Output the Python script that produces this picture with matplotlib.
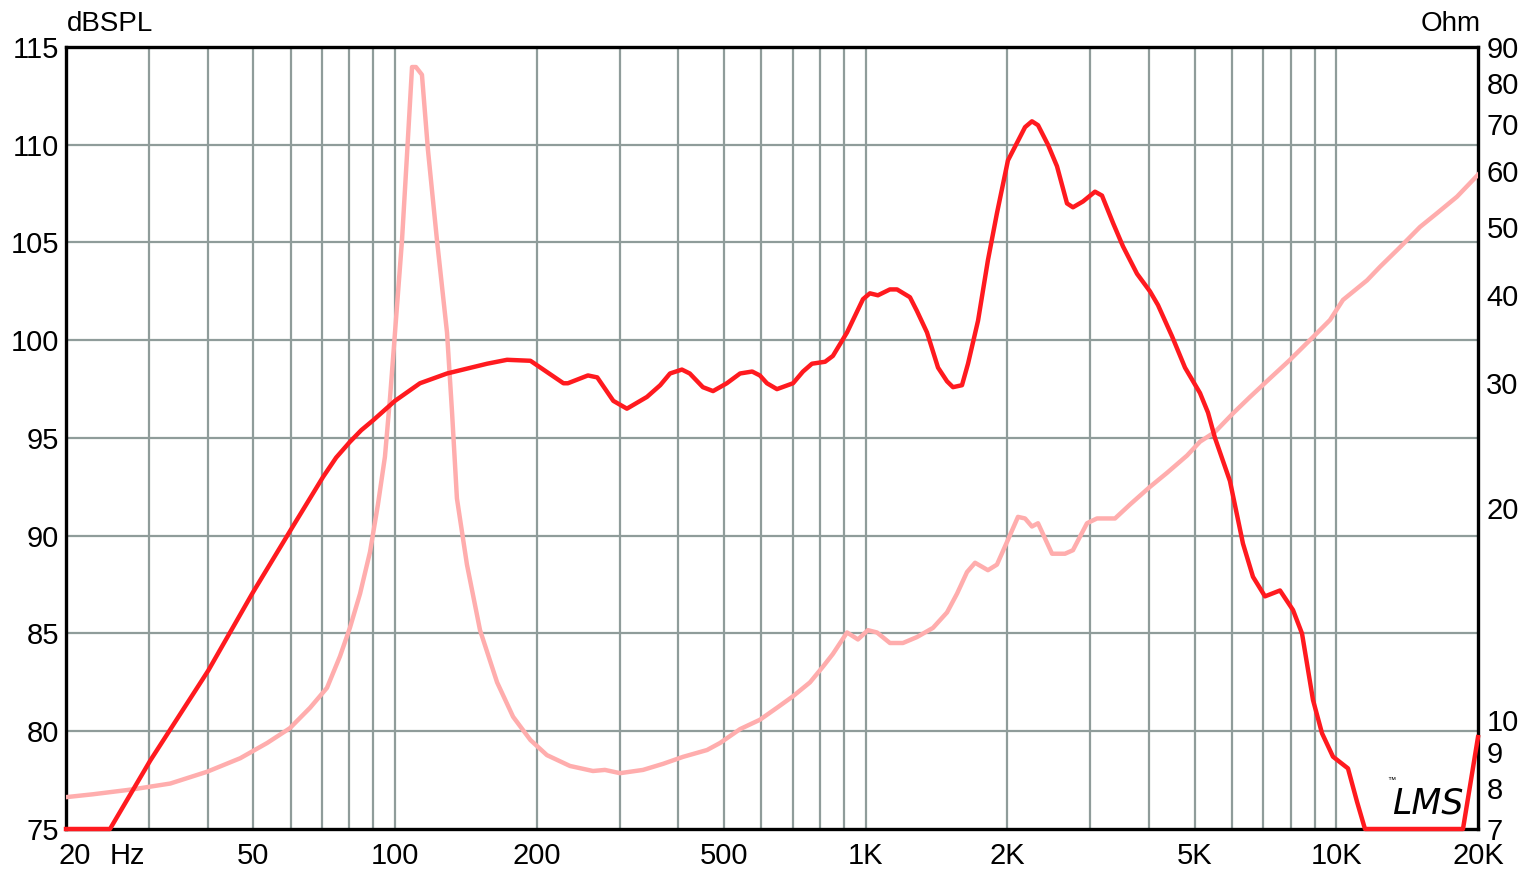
import matplotlib
matplotlib.use("Agg")
import matplotlib.pyplot as plt
from matplotlib.ticker import FixedLocator, NullLocator, NullFormatter
import matplotlib.transforms as mtransforms

# ---- data ----
spl_freq = [20, 24.8, 30.2, 40.1, 49.9, 60.4, 70.3, 75.0, 80.2, 84.8, 89.8, 100, 113, 129, 157, 173, 194,
            228, 233, 257, 269, 291, 311, 343, 366, 384, 407, 423, 451, 474, 507, 541, 574,
            596, 617, 648, 701, 736, 769, 820, 852, 913, 987, 1021, 1062, 1126, 1166, 1242,
            1285, 1350, 1425, 1489, 1533, 1602, 1650, 1733, 1819, 1901, 2006, 2097, 2181,
            2256, 2324, 2440, 2550, 2678, 2757, 2896, 3071, 3178, 3354, 3522, 3772, 4019,
            4179, 4477, 4770, 5133, 5338, 5524, 5943, 6334, 6652, 7054, 7592, 8091, 8455,
            8922, 9323, 9838, 10587, 11064, 11506, 18583, 20000]
spl_db = [75, 75, 78.5, 83.1, 87.1, 90.4, 93.0, 94.0, 94.8, 95.4, 95.9, 96.9, 97.8, 98.3, 98.8, 99.0, 98.95,
          97.8, 97.8, 98.2, 98.1, 96.9, 96.5, 97.1, 97.7, 98.3, 98.5, 98.3, 97.6, 97.4, 97.8,
          98.3, 98.4, 98.2, 97.8, 97.5, 97.8, 98.4, 98.8, 98.9, 99.2, 100.4, 102.1, 102.4,
          102.3, 102.6, 102.6, 102.2, 101.5, 100.4, 98.6, 97.9, 97.6, 97.7, 98.8, 101.0,
          104.1, 106.5, 109.2, 110.1, 110.9, 111.2, 111.0, 110.0, 108.9, 107.0, 106.8, 107.1,
          107.6, 107.4, 106.0, 104.8, 103.4, 102.5, 101.8, 100.2, 98.6, 97.3, 96.3, 95.0,
          92.8, 89.6, 87.9, 86.9, 87.2, 86.2, 85.0, 81.6, 79.9, 78.7, 78.1, 76.4, 75, 75, 79.7]

imp_freq = [20.1, 22.8, 27.8, 33.3, 39.9, 46.9, 53.5, 59.8, 66.0, 71.7, 76.4, 80.2, 84.3, 88.5,
            92.0, 95.2, 97.6, 100, 103.5, 106.0, 108.7, 110.8, 114.1, 117.5, 122.8, 129,
            132.2, 135.4, 142.2, 151.6, 164.8, 178.2, 194, 210.3, 235.4, 263.4, 279.3, 300.7,
            336.5, 371.2, 409.3, 460.3, 490.4, 541, 596, 648, 701, 761.6, 811.9, 852, 913,
            963, 1011, 1057, 1126, 1200, 1285, 1390, 1489, 1564, 1642, 1708, 1819, 1901, 2006,
            2107, 2181, 2256, 2324, 2489, 2652, 2757, 2953, 3101, 3387, 3645, 4019, 4368, 4817,
            5133, 5524, 6031, 6555, 7228, 7972, 8922, 9695, 10331, 11620, 12382, 13654, 15058,
            16364, 18046, 20000]
imp_ohm = [7.77, 7.84, 7.97, 8.12, 8.44, 8.82, 9.27, 9.73, 10.4, 11.1, 12.3, 13.5, 15.1, 17.3,
           20.2, 23.6, 28.6, 35.4, 47.9, 62.9, 84.3, 84.3, 82.2, 64.3, 47.9, 35.4, 27.3, 20.6,
           16.6, 13.4, 11.3, 10.1, 9.36, 8.91, 8.60, 8.46, 8.49, 8.40, 8.49, 8.66, 8.86, 9.06,
           9.27, 9.70, 10.0, 10.4, 10.8, 11.3, 11.9, 12.4, 13.3, 13.0, 13.4, 13.3, 12.85,
           12.85, 13.1, 13.5, 14.2, 15.1, 16.2, 16.7, 16.3, 16.6, 18.0, 19.4, 19.3, 18.8, 19.0,
           17.2, 17.2, 17.4, 19.0, 19.3, 19.3, 20.2, 21.4, 22.4, 23.7, 24.8, 25.6, 27.2, 28.7,
           30.5, 32.4, 34.9, 36.9, 39.4, 42.0, 43.9, 46.8, 50.0, 52.3, 55.2, 59.3]

x_ticks = [20, 50, 100, 200, 500, 1000, 2000, 5000, 10000, 20000]
x_ticklabels = ["20", "50", "100", "200", "500", "1K", "2K", "5K", "10K", "20K"]
x_grid = [30, 40, 50, 60, 70, 80, 90, 100, 200, 300, 400, 500, 600, 700, 800, 900,
          1000, 2000, 3000, 4000, 5000, 6000, 7000, 8000, 9000, 10000]
db_ticks = [75, 80, 85, 90, 95, 100, 105, 110, 115]
ohm_ticks = [7, 8, 9, 10, 20, 30, 40, 50, 60, 70, 80, 90]

# ---- style ----
FONT = "Liberation Sans"
plt.rcParams["font.family"] = [FONT, "DejaVu Sans"]
GRID = "#8f9c9a"
RED = "#ff1a1f"
PINK = "#ffadad"
TICK_FS = 21

W, H = 1535, 873
fig = plt.figure(figsize=(W / 100, H / 100), dpi=100)
L, R, T, B = 66, 1478, 47, 829
ax = fig.add_axes([L / W, 1 - B / H, (R - L) / W, (B - T) / H])
ax.set_xscale("log")
ax.set_xlim(20, 20000)
ax.set_ylim(75, 115)

for f in x_grid:
    ax.axvline(f, color=GRID, lw=1.6, zorder=1)
for d in db_ticks[1:-1]:
    ax.axhline(d, color=GRID, lw=1.6, zorder=1)

ax.xaxis.set_major_locator(FixedLocator(x_ticks))
ax.set_xticklabels(x_ticklabels)
ax.xaxis.set_minor_locator(NullLocator())
ax.xaxis.set_minor_formatter(NullFormatter())
ax.set_yticks(db_ticks)
ax.set_yticklabels([str(v) for v in db_ticks])
ax.tick_params(axis="both", length=0, labelsize=TICK_FS, colors="black")
ax.tick_params(axis="x", pad=9)
ax.tick_params(axis="y", pad=5)
for s in ax.spines.values():
    s.set_linewidth(2.4)
    s.set_color("black")
    s.set_zorder(5)

# shift "20" label right a little
lbl0 = ax.get_xticklabels()[0]
lbl0.set_transform(lbl0.get_transform() + mtransforms.ScaledTranslation(9 / 100, 0, fig.dpi_scale_trans))

# impedance axis
ax2 = ax.twinx()
ax2.set_yscale("log")
ax2.set_ylim(7, 90)
ax2.yaxis.set_major_locator(FixedLocator(ohm_ticks))
ax2.set_yticklabels([str(v) for v in ohm_ticks])
ax2.yaxis.set_minor_locator(NullLocator())
ax2.yaxis.set_minor_formatter(NullFormatter())
ax2.tick_params(axis="y", length=0, labelsize=TICK_FS, pad=6)
for s in ax2.spines.values():
    s.set_visible(False)
ax2.plot(imp_freq, imp_ohm, color=PINK, lw=3.2, solid_joinstyle="round")

# SPL layer on top
ax3 = ax.twinx()
ax3.set_ylim(75, 115)
ax3.set_yticks([])
for s in ax3.spines.values():
    s.set_visible(False)
ax3.plot(spl_freq, spl_db, color=RED, lw=3.2, clip_on=False, solid_joinstyle="round", zorder=6)

# labels
fig.text(67 / W, 1 - 31 / H, "dBSPL", fontsize=20, ha="left", va="baseline")
fig.text(1481 / W, 1 - 31 / H, "Ohm", fontsize=20, ha="right", va="baseline")
ax.text(27, -0.016, "Hz", transform=ax.get_xaxis_transform(), fontsize=TICK_FS, ha="center", va="top")

# LMS logo
ax.text(1.0 - 86 / (R - L), (B - 813) / (B - T), "LMS", transform=ax.transAxes,
        fontsize=25, fontstyle="italic", ha="left", va="baseline", zorder=7,
        family=["DejaVu Sans"])
ax.text(1.0 - 91 / (R - L), (B - 782) / (B - T), "™", transform=ax.transAxes,
        fontsize=6, ha="left", va="baseline", zorder=7)

fig.savefig("out.png", dpi=100, facecolor="white")
